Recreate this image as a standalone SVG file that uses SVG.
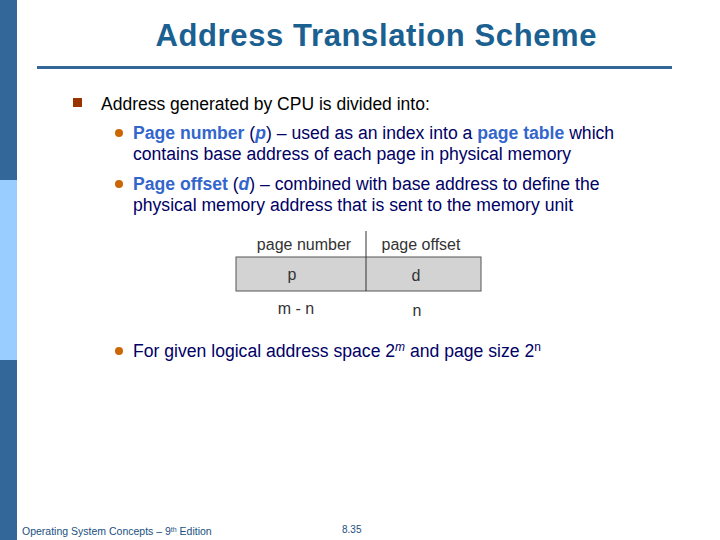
<svg xmlns="http://www.w3.org/2000/svg" width="720" height="540" viewBox="0 0 720 540">
<style>
text{font-family:"Liberation Sans",Arial,sans-serif}
.b{font-size:17.6px;fill:#000066}
.h{fill:#3366cc;font-weight:bold}
.lab{font-size:16px;fill:#333}
</style>
<rect width="720" height="540" fill="#fff"/>
<g id="sidebar">
<rect x="0" y="0" width="17" height="180" fill="#336699"/>
<rect x="0" y="180" width="17" height="180" fill="#99ccff"/>
<rect x="0" y="360" width="17" height="180" fill="#336699"/>
</g>
<text x="376" y="46" text-anchor="middle" font-size="31" font-weight="bold" fill="#1a6090" textLength="441">Address Translation Scheme</text>
<rect x="37" y="66" width="635" height="3" fill="#336699"/>
<rect x="73" y="98" width="9" height="9" fill="#993300"/>
<text x="101" y="110" font-size="17.5" fill="#000">Address generated by CPU is divided into:</text>
<circle cx="119" cy="133" r="4" fill="#cc6600"/>
<text x="133" y="139" class="b"><tspan class="h">Page number</tspan> (<tspan class="h" font-style="italic">p</tspan>) – used as an index into a <tspan class="h">page table</tspan> which</text>
<text x="133" y="160" class="b">contains base address of each page in physical memory</text>
<circle cx="119" cy="184" r="4" fill="#cc6600"/>
<text x="133" y="190" class="b"><tspan class="h">Page offset</tspan> (<tspan class="h" font-style="italic">d</tspan>) – combined with base address to define the</text>
<text x="133" y="211" class="b">physical memory address that is sent to the memory unit</text>
<g id="address">
<rect x="236" y="257" width="245" height="34" fill="#d3d3d3" stroke="#555" stroke-width="1"/>
<line x1="366" y1="231" x2="366" y2="291" stroke="#333" stroke-width="1"/>
<text x="304" y="250" text-anchor="middle" class="lab">page number</text>
<text x="421" y="250" text-anchor="middle" class="lab">page offset</text>
<text x="292" y="280" text-anchor="middle" class="lab">p</text>
<text x="416" y="281" text-anchor="middle" class="lab">d</text>
<text x="296" y="314" text-anchor="middle" class="lab">m - n</text>
<text x="417" y="316" text-anchor="middle" class="lab">n</text>
</g>
<circle cx="119" cy="351" r="4" fill="#cc6600"/>
<text x="133" y="357" class="b">For given logical address space 2<tspan font-size="12" dy="-6" font-style="italic">m</tspan><tspan dy="6"> and page size 2</tspan><tspan font-size="12" dy="-6">n</tspan></text>
<text x="22" y="535" font-size="10.5" fill="#1a5080">Operating System Concepts – 9<tspan font-size="7" dy="-3">th</tspan><tspan dy="3"> Edition</tspan></text>
<text x="342" y="533" font-size="10" fill="#1a5080">8.35</text>
</svg>
